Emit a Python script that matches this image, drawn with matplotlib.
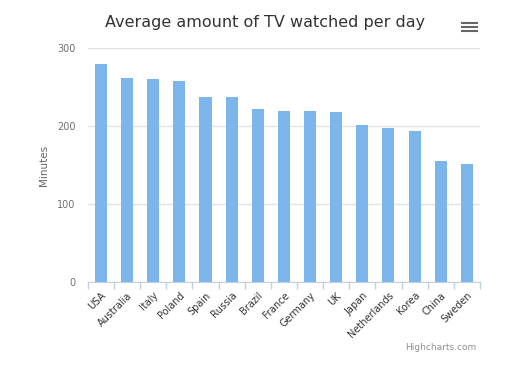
import numpy as np
import matplotlib
matplotlib.use("Agg")
import matplotlib.pyplot as plt
from matplotlib.lines import Line2D

# data
countries = ['USA', 'Australia', 'Italy', 'Poland', 'Spain', 'Russia', 'Brazil',
             'France', 'Germany', 'UK', 'Japan', 'Netherlands', 'Korea', 'China', 'Sweden']
minutes = [280, 262, 260, 258, 237, 237, 222, 219, 219, 218, 201, 197, 194, 155, 151]
yticks = [0, 100, 200, 300]

fig = plt.figure(figsize=(5.2, 3.66), dpi=100)
ax = fig.add_axes([0.169, 0.2295, 0.754, 0.6395])

x = np.arange(len(countries))
ax.bar(x, minutes, width=0.46, color='#7cb5ec', zorder=2)

ax.set_xlim(-0.5, len(countries) - 0.5)
ax.set_ylim(0, 300)
ax.set_yticks(yticks)
ax.yaxis.grid(True, color='#E2E2E2', linewidth=1, zorder=0)
ax.tick_params(axis='y', length=0, labelsize=7, labelcolor='#707070', pad=9)

ax.set_xticks(x)
ax.set_xticklabels(countries, rotation=45, ha='right', rotation_mode='anchor',
                   fontsize=7, color='#333333')
ax.tick_params(axis='x', length=0, pad=6)
# tick marks between categories
ax.set_xticks(np.arange(-0.5, len(countries)), minor=True)
ax.tick_params(axis='x', which='minor', length=5, color='#C0D0E0', width=1)

for s in ['top', 'right', 'left']:
    ax.spines[s].set_visible(False)
ax.spines['bottom'].set_color('#C0D0E0')

ax.set_ylabel('Minutes', fontsize=7.5, color='#666666', labelpad=6)

fig.text(0.51, 0.938, 'Average amount of TV watched per day', ha='center', va='center',
         fontsize=11.5, color='#333333')
fig.text(0.917, 0.05, 'Highcharts.com', ha='right', va='center', fontsize=6.5, color='#909090')

# menu icon
for yy in [0.914, 0.925, 0.936]:
    fig.add_artist(Line2D([0.888, 0.917], [yy, yy], color='#666666', linewidth=1.5,
                          transform=fig.transFigure))

fig.savefig('out.png', dpi=100)
